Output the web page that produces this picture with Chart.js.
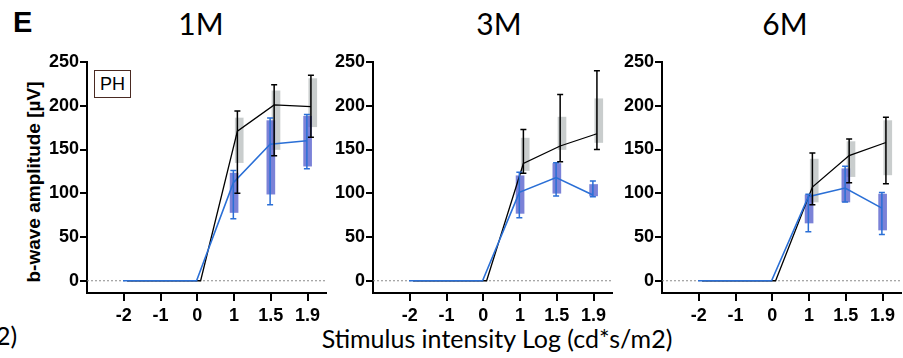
<!DOCTYPE html>
<html>
<head>
<meta charset="utf-8">
<script src="https://cdn.jsdelivr.net/npm/chart.js@4.4.1/dist/chart.umd.min.js"></script>
<style>
  html,body{margin:0;padding:0;background:#fff;}
  #wrap{position:relative;width:903px;height:358px;overflow:hidden;background:#fff;}
  .panel{position:absolute;top:50px;height:300px;}
  .txt{position:absolute;white-space:nowrap;color:#000;}
</style>
</head>
<body>
<div id="wrap">
  <div class="txt" style="left:13px;top:6px;font:bold 29px 'Liberation Sans',Arial,sans-serif;">E</div>
  <div class="txt" style="left:-4px;top:320px;font:25px Lato,sans-serif;">2)</div>
  <div class="txt" style="top:5px;font:30px Lato,sans-serif;transform:translateX(-50%);left:201px;">1M</div>
  <div class="txt" style="top:5px;font:30px Lato,sans-serif;transform:translateX(-50%);left:499px;">3M</div>
  <div class="txt" style="top:5px;font:30px Lato,sans-serif;transform:translateX(-50%);left:785px;">6M</div>
  <div class="txt" style="left:497px;top:323px;transform:translateX(-50%);font:25px Lato,sans-serif;">Stimulus intensity Log (cd*s/m2)</div>
  <div class="txt" style="left:34px;top:182px;transform:translate(-50%,-50%) rotate(-90deg);font:bold 19px 'Liberation Sans',Arial,sans-serif;">b-wave amplitude [µV]</div>
  <div class="txt" style="left:94px;top:70px;width:35px;height:26px;border:1px solid #4a2a22;font:18px 'Liberation Sans',Arial,sans-serif;text-align:center;line-height:26px;">PH</div>
  <div class="panel" id="p0" style="left:27px;width:303px;"><canvas id="c0"></canvas></div>
  <div class="panel" id="p1" style="left:313px;width:303px;"><canvas id="c1"></canvas></div>
  <div class="panel" id="p2" style="left:602px;width:303px;"><canvas id="c2"></canvas></div>
</div>
<script>
// ---- data ----
const xLabels = ['-2', '-1', '0', '1', '1.5', '1.9'];
const yTicks = [0, 50, 100, 150, 200, 250];
const panelTitles = ['1M', '3M', '6M'];

// 1M
const black1M     = [0, 0, 0, 171, 201, 199];
const blackLo1M   = [null, null, null, 100, 143, 164];
const blackHi1M   = [null, null, null, 194, 224, 235];
const grayBoxLo1M = [null, null, null, 135, 150, 176];
const grayBoxHi1M = [null, null, null, 186, 217, 231];
const blue1M      = [0, 0, 0, 112, 156, 160];
const blueLo1M    = [null, null, null, 71, 87, 128];
const blueHi1M    = [null, null, null, 126, 186, 190];
const blueBoxLo1M = [null, null, null, 78, 99, 131];
const blueBoxHi1M = [null, null, null, 123, 183, 188];

// 3M
const black3M     = [0, 0, 0, 134, 154, 168];
const blackLo3M   = [null, null, null, 123, 136, 150];
const blackHi3M   = [null, null, null, 173, 213, 240];
const grayBoxLo3M = [null, null, null, 126, 150, 158];
const grayBoxHi3M = [null, null, null, 163, 187, 208];
const blue3M      = [0, 0, 0, 101, 118, 98];
const blueLo3M    = [null, null, null, 72, 97, 96];
const blueHi3M    = [null, null, null, 124, 135, 114];
const blueBoxLo3M = [null, null, null, 77, 100, 97];
const blueBoxHi3M = [null, null, null, 120, 134, 110];

// 6M
const black6M     = [0, 0, 0, 107, 143, 158];
const blackLo6M   = [null, null, null, 87, 112, 111];
const blackHi6M   = [null, null, null, 146, 162, 187];
const grayBoxLo6M = [null, null, null, 90, 119, 121];
const grayBoxHi6M = [null, null, null, 139, 159, 183];
const blue6M      = [0, 0, 0, 96, 106, 83];
const blueLo6M    = [null, null, null, 56, 90, 53];
const blueHi6M    = [null, null, null, 99, 131, 101];
const blueBoxLo6M = [null, null, null, 66, 90, 58];
const blueBoxHi6M = [null, null, null, 98, 128, 99];

const panels = [
  {black: black1M, bLo: blackLo1M, bHi: blackHi1M, gLo: grayBoxLo1M, gHi: grayBoxHi1M,
   blue: blue1M, uLo: blueLo1M, uHi: blueHi1M, ubLo: blueBoxLo1M, ubHi: blueBoxHi1M},
  {black: black3M, bLo: blackLo3M, bHi: blackHi3M, gLo: grayBoxLo3M, gHi: grayBoxHi3M,
   blue: blue3M, uLo: blueLo3M, uHi: blueHi3M, ubLo: blueBoxLo3M, ubHi: blueBoxHi3M},
  {black: black6M, bLo: blackLo6M, bHi: blackHi6M, gLo: grayBoxLo6M, gHi: grayBoxHi6M,
   blue: blue6M, uLo: blueLo6M, uHi: blueHi6M, ubLo: blueBoxLo6M, ubHi: blueBoxHi6M}
];

// ---- style ----
const BLUE = '#2a6fd6';
const BLUE_BOX = 'rgba(72,82,200,0.72)';
const GRAY_BOX = 'rgba(165,172,172,0.6)';
const TICK_FONT = {family: "'Liberation Sans', Arial, sans-serif", size: 18, weight: 'bold'};

function pts(vals, off) {
  const out = [];
  vals.forEach((v, i) => { if (v !== null) out.push({x: i + off, y: v}); });
  return out;
}
function boxes(lo, hi, off) {
  const out = [];
  lo.forEach((v, i) => { if (v !== null) out.push({x: i + off, y: [v, hi[i]]}); });
  return out;
}

const errorBars = {
  id: 'errorBars',
  afterDatasetsDraw(chart) {
    const ctx = chart.ctx, ys = chart.scales.y;
    chart.data.datasets.forEach((ds, di) => {
      if (!ds.errLo) return;
      const meta = chart.getDatasetMeta(di);
      ctx.save();
      ctx.strokeStyle = ds.borderColor;
      ctx.lineWidth = 1.5;
      meta.data.forEach((el, i) => {
        const lo = ds.errLo[i], hi = ds.errHi[i];
        if (lo === null || lo === undefined) return;
        const x = el.x, y1 = ys.getPixelForValue(lo), y2 = ys.getPixelForValue(hi);
        ctx.beginPath();
        ctx.moveTo(x, y1); ctx.lineTo(x, y2);
        ctx.moveTo(x - 3, y1); ctx.lineTo(x + 3, y1);
        ctx.moveTo(x - 3, y2); ctx.lineTo(x + 3, y2);
        ctx.stroke();
      });
      ctx.restore();
    });
  }
};

const BLUE_OFF = -0.02, BLACK_OFF = 0.09, GRAY_OFF = 0.14, BLUEBOX_OFF = 0.0;

panels.forEach((p, k) => {
  const errB = [], errBH = [], errU = [], errUH = [];
  p.black.forEach((v, i) => { errB.push(p.bLo[i]); errBH.push(p.bHi[i]); });
  p.blue.forEach((v, i) => { errU.push(p.uLo[i]); errUH.push(p.uHi[i]); });
  new Chart(document.getElementById('c' + k), {
    type: 'bar',
    data: {
      datasets: [
        {type: 'line', data: pts(p.blue, BLUE_OFF), borderColor: BLUE, borderWidth: 1.6,
         pointRadius: 0, tension: 0, fill: false, order: 1, errLo: errU, errHi: errUH},
        {type: 'line', data: pts(p.black, BLACK_OFF), borderColor: '#000', borderWidth: 1.3,
         pointRadius: 0, tension: 0, fill: false, order: 2, errLo: errB, errHi: errBH},
        {type: 'line', data: [{x: -1, y: 0}, {x: 5.5, y: 0}], borderColor: '#8a8a8a',
         borderWidth: 1, borderDash: [2, 2], pointRadius: 0, order: 3},
        {type: 'bar', data: boxes(p.ubLo, p.ubHi, BLUEBOX_OFF), backgroundColor: BLUE_BOX,
         barThickness: 8, grouped: false, order: 4},
        {type: 'bar', data: boxes(p.gLo, p.gHi, GRAY_OFF), backgroundColor: GRAY_BOX,
         barThickness: 8, grouped: false, order: 5}
      ]
    },
    options: {
      responsive: true, maintainAspectRatio: false, animation: false,
      layout: {padding: {top: 12, right: 4, left: 0, bottom: 0}},
      plugins: {legend: {display: false}, tooltip: {enabled: false}},
      scales: {
        x: {
          type: 'linear', min: -1, max: 5.5, offset: false,
          afterBuildTicks: s => { s.ticks = xLabels.map((l, i) => ({value: i})); },
          afterFit: s => { s.height = 57; },
          grid: {drawOnChartArea: false, offset: false, tickLength: 8, color: '#000', lineWidth: 2},
          border: {display: true, color: '#000', width: 2},
          ticks: {color: '#000', font: TICK_FONT, padding: 4, maxRotation: 0, autoSkip: false,
                  callback: v => xLabels[v]}
        },
        y: {
          type: 'linear', min: -14, max: 250,
          afterBuildTicks: s => { s.ticks = yTicks.map(v => ({value: v})); },
          afterFit: s => { s.width = 60; },
          grid: {drawOnChartArea: false, tickLength: 7, color: '#000', lineWidth: 2},
          border: {display: true, color: '#000', width: 2},
          ticks: {color: '#000', font: TICK_FONT, padding: 1}
        }
      }
    },
    plugins: [errorBars]
  });
});
</script>
</body>
</html>
